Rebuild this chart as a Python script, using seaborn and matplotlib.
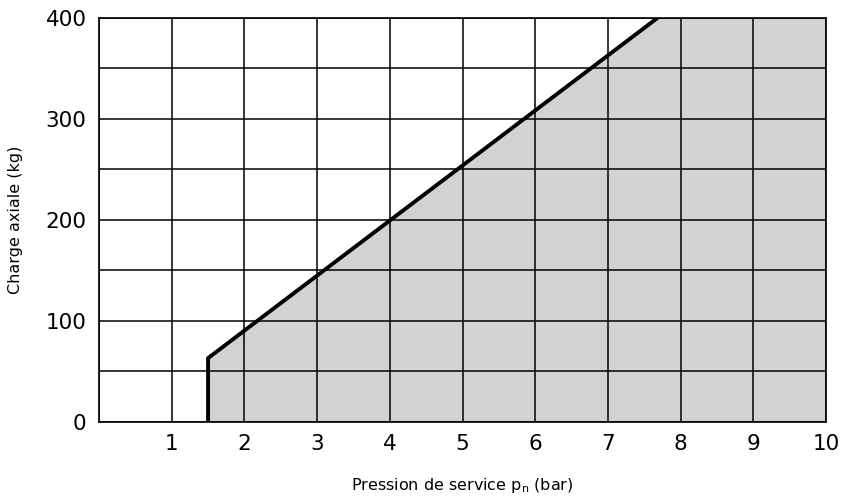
import numpy as np
import matplotlib
matplotlib.use("Agg")
import matplotlib.pyplot as plt
import seaborn as sns
import pandas as pd

# limite de charge (courbe)
pression = [1.5, 1.5, 7.68]
charge = [0, 63, 400]

# zone grisee sous la courbe
zone_x = [1.5, 7.68, 10]
zone_y = [63, 400, 400]

x_ticks = list(range(0, 11))
x_labels = [''] + [str(i) for i in range(1, 11)]
y_ticks = list(range(0, 401, 50))
y_labels = [str(v) if v % 100 == 0 else '' for v in y_ticks]

sns.set_style("white")
plt.rcParams['font.family'] = ['DejaVu Sans']
plt.rcParams['text.color'] = 'black'
plt.rcParams['axes.labelcolor'] = 'black'
plt.rcParams['xtick.color'] = 'black'
plt.rcParams['ytick.color'] = 'black'

fig = plt.figure(figsize=(8.42, 5.01), dpi=100)
ax = fig.add_axes([0.1176, 0.1583, 0.8634, 0.8057])

ax.fill_between(zone_x, 0, zone_y, color='#d1d2d4', lw=0, zorder=1)
df = pd.DataFrame({'p': pression, 'c': charge})
sns.lineplot(data=df, x='p', y='c', sort=False, color='black', lw=2.8,
             ax=ax, zorder=4, estimator=None)

ax.set_xlim(0, 10)
ax.set_ylim(0, 400)
ax.set_xticks(x_ticks)
ax.set_xticklabels(x_labels, fontsize=15.5)
ax.set_yticks(y_ticks)
ax.set_yticklabels(y_labels, fontsize=15.5)
ax.tick_params(length=0, pad=9)
ax.set_axisbelow(False)
ax.grid(True, color='black', lw=1.1, zorder=3)
for s in ax.spines.values():
    s.set_color('black')
    s.set_linewidth(1.2)
    s.set_zorder(5)

ax.set_xlabel('Pression de service p$_{\\mathregular{n}}$ (bar)', fontsize=11.5, labelpad=16)
ax.set_ylabel('Charge axiale (kg)', fontsize=11.5, labelpad=16)

fig.savefig('out.png', dpi=100)
